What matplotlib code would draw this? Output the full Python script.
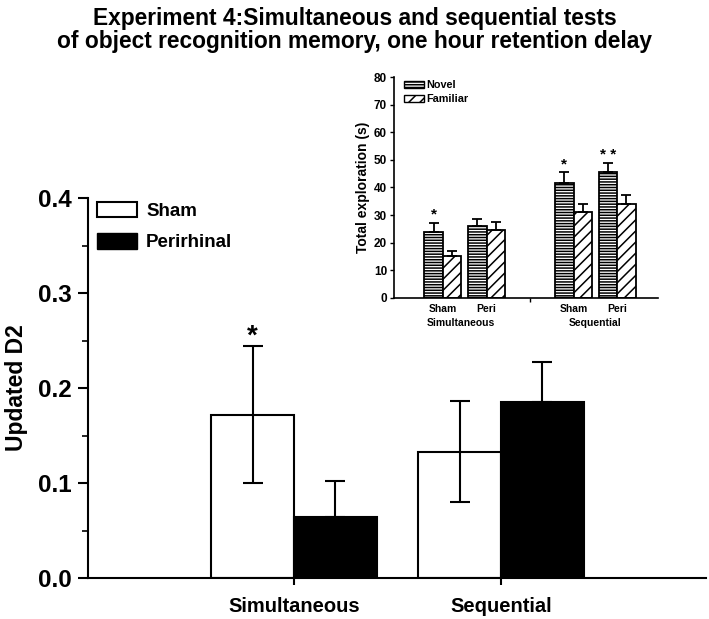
import matplotlib
matplotlib.use("Agg")
import matplotlib.pyplot as plt
from matplotlib.patches import Patch
import numpy as np

plt.rcParams['font.family'] = ['Liberation Sans', 'DejaVu Sans']
plt.rcParams['font.weight'] = 'bold'
plt.rcParams['hatch.linewidth'] = 1.1

# Main chart data
groups = ["Simultaneous", "Sequential"]
sham_vals = [0.172, 0.133]
sham_err = [0.072, 0.053]
peri_vals = [0.064, 0.185]
peri_err = [0.038, 0.042]
main_yticks = [0.0, 0.1, 0.2, 0.3, 0.4]
main_ytick_labels = ["0.0", "0.1", "0.2", "0.3", "0.4"]

# Inset data
inset_groups = ["Sham", "Peri", "Sham", "Peri"]
inset_pos = [0, 1, 3, 4]
novel_vals = [24.0, 26.1, 41.5, 45.5]
novel_err = [3.3, 2.4, 4.0, 3.3]
familiar_vals = [15.2, 24.6, 31.2, 33.9]
familiar_err = [1.8, 2.8, 2.8, 3.4]
inset_yticks = [0, 10, 20, 30, 40, 50, 60, 70, 80]
inset_stars = ["*", "", "*", "* *"]

fig = plt.figure(figsize=(7.09, 6.19), dpi=100)

ax = fig.add_axes([0.1241, 0.0662, 0.8717, 0.6139])
x = np.arange(len(groups))
w = 0.40
ax.bar(x - w/2, sham_vals, w, color='white', edgecolor='black', linewidth=1.5, zorder=2)
ax.bar(x + w/2, peri_vals, w, color='black', edgecolor='black', linewidth=1.5, zorder=2)
ax.errorbar(x - w/2, sham_vals, yerr=sham_err, fmt='none', ecolor='black',
            elinewidth=1.5, capsize=7, capthick=1.5, zorder=3)
ax.errorbar(x + w/2, peri_vals, yerr=[[0, 0], peri_err], fmt='none', ecolor='black',
            elinewidth=1.5, capsize=7, capthick=1.5, zorder=3)
ax.text(x[0] - w/2, sham_vals[0] + sham_err[0] - 0.004, "*", ha='center', va='bottom',
        fontsize=20, fontweight='bold')
ax.set_xlim(-0.995, 1.99)
ax.set_ylim(0, 0.4)
ax.set_yticks(main_yticks)
ax.set_yticklabels(main_ytick_labels, fontsize=17.5, fontweight='bold')
ax.set_yticks([0.05, 0.15, 0.25, 0.35], minor=True)
ax.tick_params(axis='y', which='major', length=7, width=1.5, pad=5)
ax.tick_params(axis='y', which='minor', length=4, width=1.2)
ax.set_xticks(x)
ax.set_xticklabels(groups, fontsize=14.5, fontweight='bold')
ax.tick_params(axis='x', length=5, width=1.5, pad=9)
ax.spines['top'].set_visible(False)
ax.spines['right'].set_visible(False)
for s in ['left', 'bottom']:
    ax.spines[s].set_linewidth(1.5)
ax.set_ylabel("Updated D2", fontsize=16.5, fontweight='bold', labelpad=7)
leg = ax.legend(handles=[Patch(facecolor='white', edgecolor='black', linewidth=1.5, label='Sham'),
                         Patch(facecolor='black', edgecolor='black', label='Perirhinal')],
                loc='upper left', bbox_to_anchor=(-0.012, 1.035), frameon=False,
                fontsize=13.5, handlelength=2.1, handleheight=0.9, labelspacing=0.7,
                handletextpad=0.5)
for t in leg.get_texts():
    t.set_fontweight('bold')

fig.text(0.5, 1 - 25/619, "Experiment 4:Simultaneous and sequential tests",
         ha='center', va='baseline', fontsize=16.4, fontweight='bold')
fig.text(0.5, 1 - 48/619, "of object recognition memory, one hour retention delay",
         ha='center', va='baseline', fontsize=16.4, fontweight='bold')

# Inset
ins = fig.add_axes([0.5557, 0.5186, 0.3723, 0.3570])
iw = 0.425
ip = np.array(inset_pos, dtype=float)
ins.bar(ip - iw/2, novel_vals, iw, color='white', edgecolor='black', hatch='------', linewidth=1.3, zorder=2)
ins.bar(ip + iw/2, familiar_vals, iw, color='white', edgecolor='black', hatch='///', linewidth=1.3, zorder=2)
ins.errorbar(ip - iw/2, novel_vals, yerr=[[0]*4, novel_err], fmt='none', ecolor='black',
             elinewidth=1.3, capsize=3.5, capthick=1.3, zorder=3)
ins.errorbar(ip + iw/2, familiar_vals, yerr=[[0]*4, familiar_err], fmt='none', ecolor='black',
             elinewidth=1.3, capsize=3.5, capthick=1.3, zorder=3)
for p, v, e, s in zip(ip, novel_vals, novel_err, inset_stars):
    if s:
        ins.text(p - iw/2, v + e + 0.3, s, ha='center', va='bottom', fontsize=11, fontweight='bold')
ins.set_xlim(-1.126, 4.94)
ins.set_ylim(0, 80)
ins.set_yticks(inset_yticks)
ins.set_yticklabels([str(t) for t in inset_yticks], fontsize=8.5, fontweight='bold')
ins.tick_params(axis='y', length=3, width=1.0, pad=2)
ins.set_xticks([2])
ins.set_xticklabels([""])
ins.tick_params(axis='x', length=3, width=1.0)
for p, g in zip(ip, inset_groups):
    ins.text(p, -2.3, g, ha='center', va='top', fontsize=7.5, fontweight='bold')
ins.text((ip[0] + ip[1]) / 2 - 0.08, -7.3, "Simultaneous", ha='center', va='top', fontsize=7.5, fontweight='bold')
ins.text((ip[2] + ip[3]) / 2, -7.3, "Sequential", ha='center', va='top', fontsize=7.5, fontweight='bold')
ins.spines['top'].set_visible(False)
ins.spines['right'].set_visible(False)
for s in ['left', 'bottom']:
    ins.spines[s].set_linewidth(1.2)
ins.set_ylabel("Total exploration (s)", fontsize=10, fontweight='bold', labelpad=3)
ileg = ins.legend(handles=[Patch(facecolor='white', edgecolor='black', hatch='------', label='Novel'),
                           Patch(facecolor='white', edgecolor='black', hatch='///', label='Familiar')],
                  loc='upper left', bbox_to_anchor=(0.0, 1.03), frameon=False, fontsize=7.8,
                  handlelength=1.9, handleheight=0.7, labelspacing=0.4, handletextpad=0.2)
for t in ileg.get_texts():
    t.set_fontweight('bold')

fig.savefig("out.png", dpi=100)
